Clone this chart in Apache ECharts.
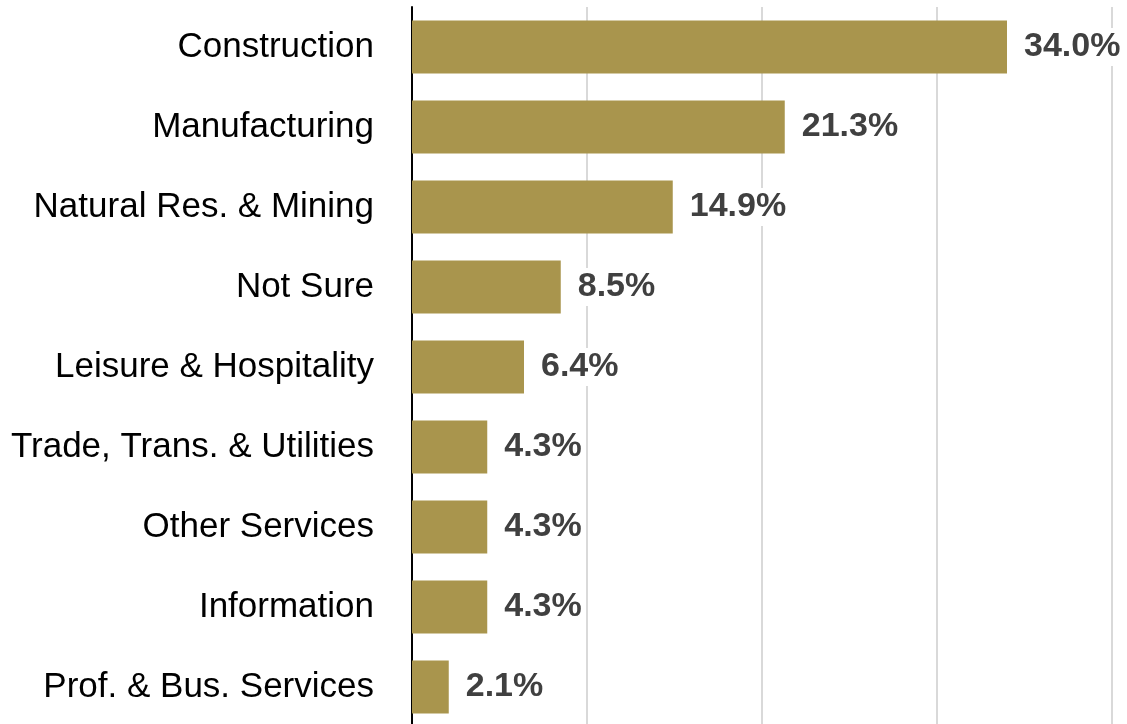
<!DOCTYPE html>
<html>
<head>
<meta charset="utf-8">
<style>
  html, body { margin: 0; padding: 0; background: #fff; }
  #chart { width: 1127px; height: 724px; }
</style>
<script src="https://cdn.jsdelivr.net/npm/echarts@6/dist/echarts.min.js"></script>
</head>
<body>
<div id="chart"></div>
<script>
const categories = [
  'Construction',
  'Manufacturing',
  'Natural Res. & Mining',
  'Not Sure',
  'Leisure & Hospitality',
  'Trade, Trans. & Utilities',
  'Other Services',
  'Information',
  'Prof. & Bus. Services'
];
const shares = [34.0, 21.3, 14.9, 8.5, 6.4, 4.3, 4.3, 4.3, 2.1];

const font = "'Liberation Sans', Arial, sans-serif";

const chart = echarts.init(document.getElementById('chart'));
chart.setOption({
  animation: false,
  grid: { left: 412, right: 15, top: 7, height: 720, containLabel: false, outerBoundsMode: 'none' },
  xAxis: {
    type: 'value',
    min: 0,
    max: 40,
    interval: 10,
    axisLabel: { show: false },
    axisLine: { show: false },
    axisTick: { show: false },
    splitLine: { lineStyle: { color: '#d9d9d9', width: 2 } }
  },
  yAxis: {
    type: 'category',
    data: categories,
    inverse: true,
    axisTick: { show: false },
    axisLine: { lineStyle: { color: '#000', width: 2 } },
    axisLabel: { color: '#000', fontFamily: font, fontSize: 35, margin: 38 }
  },
  series: [{
    type: 'bar',
    data: shares,
    barWidth: 53,
    itemStyle: { color: '#a9954d' },
    label: {
      show: true,
      position: 'right',
      distance: 15,
      color: '#404040',
      fontFamily: font,
      fontWeight: 'bold',
      fontSize: 34,
      backgroundColor: '#fff',
      padding: [2, 2],
      formatter: p => p.value.toFixed(1) + '%'
    }
  }]
});
</script>
</body>
</html>
